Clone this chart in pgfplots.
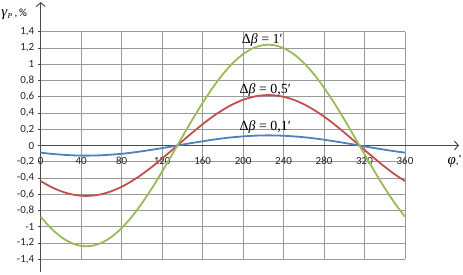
\documentclass[border=0pt]{standalone}
\usepackage{fontspec}
\setmainfont{Carlito}
\newfontfamily\serif{Liberation Serif}
\usepackage{pgfplots}
\pgfplotsset{compat=1.18}
\usetikzlibrary{arrows.meta}
\definecolor{xlgreen}{HTML}{9BBB59}
\definecolor{xlred}{HTML}{C0504D}
\definecolor{xlblue}{HTML}{4F81BD}
\begin{document}
\begin{tikzpicture}
\begin{axis}[
  scale only axis, width=364.3bp, height=227.6bp,
  xmin=0, xmax=360, ymin=-1.4, ymax=1.4,
  axis lines=middle,
  clip=false,
  hide obscured x ticks=false, hide obscured y ticks=false,
  xtick={0,40,80,120,160,200,240,280,320,360},
  ytick={-1.4,-1.2,-1,-0.8,-0.6,-0.4,-0.2,0,0.2,0.4,0.6,0.8,1,1.2,1.4},
  grid=major,
  grid style={gray!80, line width=0.6bp},
  x axis line style={-{Straight Barb[length=4bp,width=9bp]}, shorten >=-54bp, line width=1bp, black!70},
  y axis line style={-{Straight Barb[length=4bp,width=9bp]}, shorten >=-29.7bp, shorten <=-12.4bp, line width=1bp, black!70},
  tick style={black!70, line width=0.6bp},
  tick align=outside,
  major tick length=3bp,
  xtick style={draw=none},
  tick label style={font=\fontsize{11}{13}\selectfont, black!85},
  xticklabel style={yshift=-5bp},
  /pgf/number format/.cd, use comma, 1000 sep={}, assume math mode=true,
]
\addplot[xlblue, line width=1.8bp, smooth] coordinates {
(0,-0.088) (10,-0.102) (20,-0.112) (30,-0.120) (40,-0.124) (50,-0.124) (60,-0.120) (70,-0.112) (80,-0.102) (90,-0.088)
(100,-0.071) (110,-0.052) (120,-0.032) (130,-0.011) (140,0.011) (150,0.032) (160,0.052) (170,0.071) (180,0.088)
(190,0.102) (200,0.112) (210,0.120) (220,0.124) (230,0.124) (240,0.120) (250,0.112) (260,0.102) (270,0.088)
(280,0.071) (290,0.052) (300,0.032) (310,0.011) (320,-0.011) (330,-0.032) (340,-0.052) (350,-0.071) (360,-0.088)};
\addplot[xlred, line width=1.8bp, smooth] coordinates {
(0,-0.438) (10,-0.508) (20,-0.562) (30,-0.599) (40,-0.618) (50,-0.618) (60,-0.599) (70,-0.562) (80,-0.508) (90,-0.438)
(100,-0.356) (110,-0.262) (120,-0.160) (130,-0.054) (140,0.054) (150,0.160) (160,0.262) (170,0.356) (180,0.438)
(190,0.508) (200,0.562) (210,0.599) (220,0.618) (230,0.618) (240,0.599) (250,0.562) (260,0.508) (270,0.438)
(280,0.356) (290,0.262) (300,0.160) (310,0.054) (320,-0.054) (330,-0.160) (340,-0.262) (350,-0.356) (360,-0.438)};
\addplot[xlgreen, line width=1.8bp, smooth] coordinates {
(0,-0.877) (10,-1.016) (20,-1.124) (30,-1.198) (40,-1.235) (50,-1.235) (60,-1.198) (70,-1.124) (80,-1.016) (90,-0.877)
(100,-0.711) (110,-0.524) (120,-0.321) (130,-0.108) (140,0.108) (150,0.321) (160,0.524) (170,0.711) (180,0.877)
(190,1.016) (200,1.124) (210,1.198) (220,1.235) (230,1.235) (240,1.198) (250,1.124) (260,1.016) (270,0.877)
(280,0.711) (290,0.524) (300,0.321) (310,0.108) (320,-0.108) (330,-0.321) (340,-0.524) (350,-0.711) (360,-0.877)};
\node[font=\serif\fontsize{14}{16}\selectfont] at (axis cs:219,1.30) {Δ\textit{β}\hspace{0.25em}=\hspace{0.25em}1′};
\node[font=\serif\fontsize{14}{16}\selectfont] at (axis cs:222,0.684) {Δ\textit{β}\hspace{0.25em}=\hspace{0.25em}0,5′};
\node[font=\serif\fontsize{14}{16}\selectfont] at (axis cs:222,0.23) {Δ\textit{β}\hspace{0.25em}=\hspace{0.25em}0,1′};
\node[anchor=west, inner sep=0pt, font=\fontsize{11}{13}\selectfont] at (axis cs:-39,1.61) {{\serif\fontsize{15}{17}\selectfont\textit{γ}}\textsubscript{\serif\textit{P}}\,,\,\%};
\node[anchor=west, inner sep=0pt, font=\fontsize{11}{13}\selectfont] at (axis cs:402,-0.2) {{\serif\fontsize{15}{17}\selectfont\textit{φ}},\textsuperscript{\serif °}};
\path ([xshift=-40.7bp,yshift=-15.7bp]rel axis cs:0,0) rectangle ([xshift=58bp,yshift=31.7bp]rel axis cs:1,1);
\end{axis}
\end{tikzpicture}
\end{document}
